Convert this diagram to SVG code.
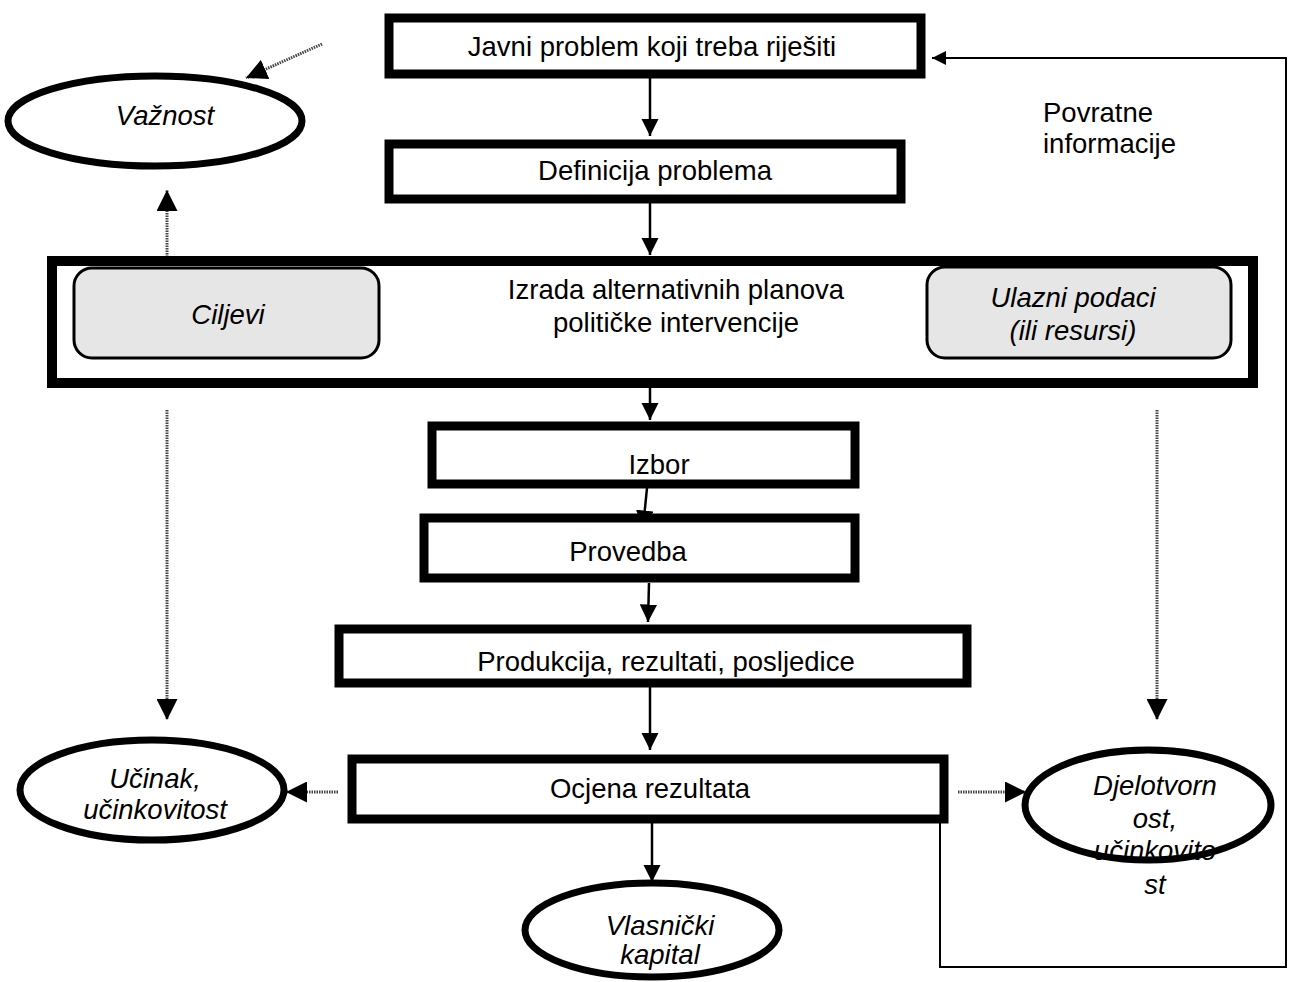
<svg xmlns="http://www.w3.org/2000/svg" width="1291" height="982" viewBox="0 0 1291 982">
<style>
text{font-family:"Liberation Sans",Arial,sans-serif;font-size:27.5px;fill:#000}
.it{font-style:italic}
.box{fill:#fff;stroke:#000;stroke-width:9}
.ell{fill:#fff;stroke:#000;stroke-width:7}
.rr{fill:#e6e6e6;stroke:#000;stroke-width:3}
.solid{fill:none;stroke:#000;stroke-width:2.5}
.dot{fill:none;stroke:#444;stroke-width:3;stroke-dasharray:1.5 1}
.fb{fill:none;stroke:#000;stroke-width:2}
</style>
<defs>
<marker id="ahb" viewBox="0 0 10 10" refX="10" refY="5" markerWidth="7" markerHeight="7" orient="auto">
<path d="M0,0 L10,5 L0,10 z" fill="#000"/>
</marker>
</defs>
<rect width="1291" height="982" fill="#fff"/>

<g id="connectors">
<line class="solid" x1="650" y1="78" x2="650" y2="136" marker-end="url(#ahb)"/>
<line class="solid" x1="650" y1="202" x2="650" y2="255" marker-end="url(#ahb)"/>
<line class="solid" x1="650" y1="388" x2="650" y2="420" marker-end="url(#ahb)"/>
<line class="solid" x1="647" y1="488" x2="643" y2="528" marker-end="url(#ahb)"/>
<line class="solid" x1="649" y1="583" x2="648" y2="622" marker-end="url(#ahb)"/>
<line class="solid" x1="650" y1="685" x2="650" y2="750" marker-end="url(#ahb)"/>
<line class="solid" x1="652" y1="822" x2="652" y2="882" marker-end="url(#ahb)"/>
<line class="dot" x1="322" y1="44" x2="246" y2="78" marker-end="url(#ahb)"/>
<line class="dot" x1="167" y1="257" x2="167" y2="190" marker-end="url(#ahb)"/>
<line class="dot" x1="167" y1="410" x2="167" y2="720" marker-end="url(#ahb)"/>
<line class="dot" x1="1157" y1="410" x2="1157" y2="720" marker-end="url(#ahb)"/>
<line class="dot" x1="338" y1="792" x2="286" y2="792" marker-end="url(#ahb)"/>
<line class="dot" x1="958" y1="792" x2="1026" y2="792" marker-end="url(#ahb)"/>
<polyline class="fb" points="940,822 940,967 1286,967 1286,58 932,58" marker-end="url(#ahb)"/>
</g>

<g id="n-javni">
<rect class="box" x="389" y="18" width="532" height="56"/>
<text x="652" y="56" text-anchor="middle">Javni problem koji treba riješiti</text>
</g>

<g id="n-definicija">
<rect class="box" x="389" y="144" width="512" height="55"/>
<text x="655" y="180" text-anchor="middle">Definicija problema</text>
</g>

<g id="n-izrada">
<rect class="box" x="52" y="261" width="1201" height="122" style="stroke-width:10"/>
<text x="676" y="299" text-anchor="middle">Izrada alternativnih planova</text>
<text x="676" y="332" text-anchor="middle">političke intervencije</text>
</g>

<g id="n-ciljevi">
<rect class="rr" x="74" y="268" width="305" height="90" rx="18"/>
<text class="it" x="228" y="324" text-anchor="middle">Ciljevi</text>
</g>

<g id="n-ulazni">
<rect class="rr" x="927" y="267" width="304" height="91" rx="18"/>
<text class="it" x="1073" y="307" text-anchor="middle">Ulazni podaci</text>
<text class="it" x="1073" y="340" text-anchor="middle">(ili resursi)</text>
</g>

<g id="n-izbor">
<rect class="box" x="432" y="426" width="423" height="58"/>
<text x="659" y="474" text-anchor="middle">Izbor</text>
</g>

<g id="n-provedba">
<rect class="box" x="424" y="518" width="431" height="60"/>
<text x="628" y="561" text-anchor="middle">Provedba</text>
</g>

<g id="n-produkcija">
<rect class="box" x="339" y="629" width="628" height="54"/>
<text x="666" y="671" text-anchor="middle">Produkcija, rezultati, posljedice</text>
</g>

<g id="n-ocjena">
<rect class="box" x="352" y="759" width="592" height="60"/>
<text x="650" y="798" text-anchor="middle">Ocjena rezultata</text>
</g>

<g id="n-vaznost">
<ellipse class="ell" cx="155" cy="121" rx="147" ry="45"/>
<text class="it" x="165" y="125" text-anchor="middle">Važnost</text>
</g>

<g id="n-ucinak">
<ellipse class="ell" cx="152" cy="790" rx="132" ry="50"/>
<text class="it" x="155" y="788" text-anchor="middle">Učinak,</text>
<text class="it" x="155" y="819" text-anchor="middle">učinkovitost</text>
</g>

<g id="n-djelotvornost">
<ellipse cx="1148" cy="805" rx="123" ry="55" fill="#fff"/>
<text class="it" x="1155" y="795" text-anchor="middle">Djelotvorn</text>
<text class="it" x="1155" y="828" text-anchor="middle">ost,</text>
<text class="it" x="1155" y="860" text-anchor="middle">učinkovito</text>
<text class="it" x="1155" y="894" text-anchor="middle">st</text>
<ellipse cx="1148" cy="805" rx="123" ry="55" fill="none" stroke="#000" stroke-width="7"/>
</g>

<g id="n-vlasnicki">
<ellipse class="ell" cx="652" cy="930" rx="127" ry="47"/>
<text class="it" x="660" y="935" text-anchor="middle">Vlasnički</text>
<text class="it" x="660" y="964" text-anchor="middle">kapital</text>
</g>

<g id="label-povratne">
<text x="1043" y="122">Povratne</text>
<text x="1043" y="153">informacije</text>
</g>
</svg>
